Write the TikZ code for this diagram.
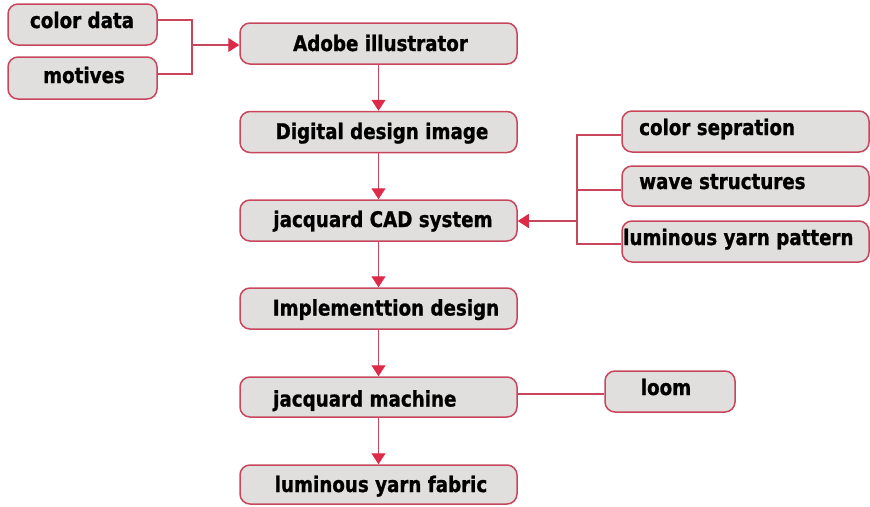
\documentclass[tikz,border=0pt]{standalone}
\usepackage{fontspec}
\setmainfont{DejaVu Sans}
\newfontfamily\lblfont{DejaVu Sans}[UprightFont={* Bold}, FakeStretch=0.85, FakeBold=1]
\usetikzlibrary{arrows.meta}
\definecolor{boxfill}{HTML}{E1DFDD}
\definecolor{boxline}{HTML}{C8465C}
\definecolor{arr}{HTML}{DC2A48}
\begin{document}
\begin{tikzpicture}[x=1pt,y=-1pt,
  box/.style={draw=boxline, line width=1.5pt, fill=boxfill, rounded corners=10pt, inner sep=0pt},
  lbl/.style={font=\lblfont\fontsize{21.5}{24}\selectfont, inner sep=0pt, text=black},
  conn/.style={draw=boxline, line width=1.3pt},
  arrow/.style={conn, -{Triangle[length=11pt,width=14pt,color=arr]}}]
\useasboundingbox (0,0) rectangle (870,506);
% left inputs
\node[box, minimum width=149pt, minimum height=41pt] (cd) at (82.5,24.5) {};
\node[box, minimum width=149pt, minimum height=42pt] (mo) at (82.5,78) {};
% main column
\node[box, minimum width=277pt, minimum height=41pt] (ai) at (378.5,43.5) {};
\node[box, minimum width=277pt, minimum height=41pt] (dd) at (378.5,132) {};
\node[box, minimum width=277pt, minimum height=41pt] (cad) at (378.5,220.5) {};
\node[box, minimum width=277pt, minimum height=41pt] (im) at (378.5,308.5) {};
\node[box, minimum width=277pt, minimum height=40pt] (jm) at (378.5,397) {};
\node[box, minimum width=277pt, minimum height=39pt] (yf) at (378.5,484.5) {};
% right inputs
\node[box, minimum width=247pt, minimum height=41pt] (cs) at (745.5,131.5) {};
\node[box, minimum width=247pt, minimum height=40pt] (ws) at (745.5,186) {};
\node[box, minimum width=247pt, minimum height=41pt] (yp) at (745.5,241.5) {};
\node[box, minimum width=130pt, minimum height=41pt] (lo) at (670,391.5) {};
% labels
\node[lbl, anchor=base] (tcd) at (82,28) {color data};
\node[lbl, anchor=base] (tmo) at (84,83) {motives};
\node[lbl, anchor=base] (tai) at (380.5,51) {Adobe illustrator};
\node[lbl, anchor=base] (tdd) at (382,139) {Digital design image};
\node[lbl, anchor=base] (tcad) at (383,227) {jacquard CAD system};
\node[lbl, anchor=base] (tim) at (386,315.5) {Implementtion design};
\node[lbl, anchor=base west] (tjm) at (273,406.5) {jacquard machine};
\node[lbl, anchor=base] (tyf) at (381,492) {luminous yarn fabric};
\node[lbl, anchor=base west] (tcs) at (639,135) {color sepration};
\node[lbl, anchor=base west] (tws) at (639,189) {wave structures};
\node[lbl, anchor=base west] (typ) at (623,245) {luminous yarn pattern};
\node[lbl, anchor=base] (tlo) at (666,395) {loom};
% connectors left
\coordinate (jl) at (192,45);
\draw[conn] ([yshift=4.5pt]cd.east) -| (jl);
\draw[conn] ([yshift=4pt]mo.east) -| (jl);
\draw[arrow] (jl) -- (jl -| ai.west);
% main flow
\draw[arrow] (ai) -- (dd);
\draw[arrow] (dd) -- (cad);
\draw[arrow] (cad) -- (im);
\draw[arrow] (im) -- (jm);
\draw[arrow] (jm) -- (yf);
% right bracket
\coordinate (jr) at (577,221);
\draw[conn] ([yshift=-3.5pt]cs.west) -| (jr);
\draw[conn] ([yshift=-4pt]ws.west) -| (jr);
\draw[conn] ([yshift=-2.5pt]yp.west) -| (jr);
\draw[arrow] (jr) -- (jr -| cad.east);
% loom
\draw[conn] ([yshift=3pt]jm.east) -- ([yshift=3pt]jm.east -| lo.west);
\end{tikzpicture}
\end{document}
